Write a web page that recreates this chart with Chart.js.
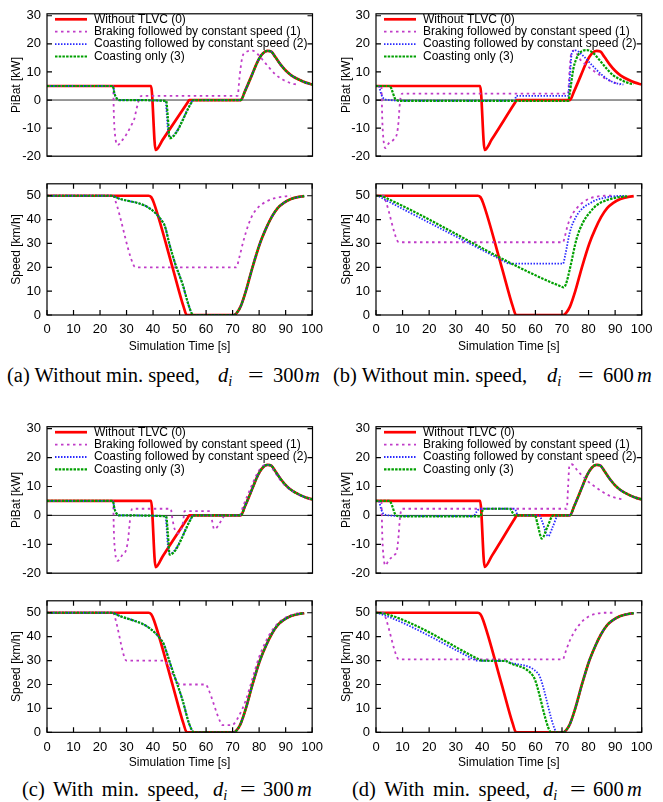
<!DOCTYPE html>
<html>
<head>
<meta charset="utf-8">
<script src="https://cdn.jsdelivr.net/npm/chart.js@4.4.0/dist/chart.umd.min.js"></script>
<style>
  body { margin: 0; background: #fff; width: 663px; height: 802px; position: relative; overflow: hidden; }
  canvas { position: absolute; }
  .cap { position: absolute; font-family: "Liberation Serif", "DejaVu Serif", serif; font-size: 20.5px; line-height: 23px; white-space: nowrap; color: #000; }
  .cap sub { font-size: 70%; line-height: 0; vertical-align: -0.25em; }
  .wide { word-spacing: 3.5px; }
  .eq { transform: scaleX(1.35); transform-origin: left center; }
</style>
</head>
<body>
<div class="cap" style="left:7px; top:364px">(a) Without min. speed,</div>
<div class="cap" style="left:218px; top:364px"><i>d<sub>i</sub></i></div>
<div class="cap eq" style="left:248px; top:364px">=</div>
<div class="cap" style="left:273px; top:364px">300</div>
<div class="cap" style="left:305px; top:364px"><i>m</i></div>

<div class="cap" style="left:333px; top:364px">(b) Without min. speed,</div>
<div class="cap" style="left:547px; top:364px"><i>d<sub>i</sub></i></div>
<div class="cap eq" style="left:578px; top:364px">=</div>
<div class="cap" style="left:603px; top:364px">600</div>
<div class="cap" style="left:637px; top:364px"><i>m</i></div>

<div class="cap wide" style="left:22px; top:778px">(c) With min. speed,</div>
<div class="cap" style="left:213px; top:778px"><i>d<sub>i</sub></i></div>
<div class="cap eq" style="left:240px; top:778px">=</div>
<div class="cap" style="left:263px; top:778px">300</div>
<div class="cap" style="left:297px; top:778px"><i>m</i></div>

<div class="cap wide" style="left:352px; top:778px">(d) With min. speed,</div>
<div class="cap" style="left:543px; top:778px"><i>d<sub>i</sub></i></div>
<div class="cap eq" style="left:570px; top:778px">=</div>
<div class="cap" style="left:593px; top:778px">600</div>
<div class="cap" style="left:627px; top:778px"><i>m</i></div>
<script>
// series names (legend)
const names = [
  "Without TLVC (0)",
  "Braking followed by constant speed (1)",
  "Coasting followed by constant speed (2)",
  "Coasting only (3)",
];

// common tail after the stop: acceleration back to 50 km/h
const accelPow = [[73, 0], [74.5, 3], [77, 8.5], [79.5, 14], [81.2, 16.5], [83, 17.5], [84.5, 17.2], [86, 15.3], [88, 12.6], [90, 10.4], [92, 8.8], [95, 7.2], [97.5, 6.2], [100, 5.5]];
const accelSpd = [[70.5, 0], [71.5, 0.8], [73, 3.5], [75, 10], [77.5, 20], [80.3, 30], [82.5, 36], [84.7, 41], [87, 44.8], [89.3, 47], [92, 48.6], [95, 49.5], [97, 49.8]];

// (a) without min. speed, d_i = 300 m  -- [time s, value]
const aPow0 = [[0, 5], [39.2, 5], [40.9, -17.8], [43.6, -14.1], [52.9, -1], [53.6, 0]].concat(accelPow);
const aPow1 = [[0, 5], [24.9, 5], [25.2, -6], [25.7, -13], [26.6, -16], [28.6, -14], [29.8, -12.4], [31.7, -9.1], [33, -6.4], [33.6, -3.6], [34.2, -1.4], [34.8, 0.8], [36, 1.5], [71.8, 1.5], [72.5, 8], [73.5, 15], [74.8, 17], [77.4, 17.6], [79.5, 16.2], [81.5, 14], [83.7, 11.5], [86.2, 9], [88.7, 7.3], [91.9, 6], [94.1, 5.5]];
const aPow2 = [[0, 5], [24.8, 5], [25.4, 2.4], [26.1, 0.8], [27.3, 0], [44.6, -0.3], [45.6, -11], [46.3, -13.2], [54.2, -1.1], [54.9, 0]].concat(accelPow);
const aPow3 = [[0, 5], [24.8, 5], [25.4, 2.4], [26.1, 0.8], [27.3, 0], [44.9, -0.3], [45.5, -6], [46.2, -13.6], [54.3, -1.1], [55, 0]].concat(accelPow);
const aSpd0 = [[0, 50], [38.3, 50], [39.3, 49.4], [40.3, 47], [47.2, 20.5], [51.5, 3.5], [52.7, 0]].concat(accelSpd);
const aSpd1 = [[0, 50], [24.9, 50], [25.6, 48.5], [32.6, 21], [33.6, 20], [71.4, 20], [72.5, 24], [74, 30.7], [76, 38], [77.7, 42.3], [80, 45.5], [82.8, 47.6], [86, 49], [89, 49.6], [92, 50]];
const aSpd2 = [[0, 50], [24.6, 50], [25.4, 49.6], [44, 38.4], [44.8, 36], [46.1, 30], [48.5, 21], [51.1, 13], [53.5, 3.8], [54.8, 0.3], [55.5, 0]].concat(accelSpd);
const aSpd3 = [[0, 50], [24.6, 50], [25.4, 49.6], [44, 38.4], [44.8, 36], [46.1, 30], [48.5, 21], [51.1, 13], [53.5, 3.8], [54.8, 0.3], [55.5, 0]].concat(accelSpd);

// (b) without min. speed, d_i = 600 m
const bPow0 = [[0, 5], [39.2, 5], [40.9, -17.8], [43.6, -14], [52.3, -1], [53, 0]].concat(accelPow);
const bPow1 = [[0, 5], [2, 5], [2.4, -8], [2.8, -14], [3.5, -17.1], [4.8, -15.4], [6.7, -14], [7.9, -11.9], [8.5, -7.5], [8.9, -2], [9.4, 1.5], [10, 2.3], [72.3, 2.3], [72.8, 10], [73.5, 16.8], [74.5, 17.6], [76.8, 14.5], [79.3, 12.3], [83.1, 9.6], [86.8, 7.4], [90.6, 5.9], [91.9, 5.5]];
const bPow2 = [[0, 5], [1, 5], [2, 2], [3, 0.4], [5, 0], [8, -0.2], [52.2, -0.2], [52.8, 1.5], [72.3, 1.5], [72.8, 6], [73.7, 16.7], [75, 17.7], [78.1, 15.6], [81.9, 11.8], [85.6, 8.5], [89.3, 6.3], [93.1, 5.5]];
const bPow3 = [[0, 5], [5.2, 5], [6, 3.5], [7.3, 0.3], [9, -0.3], [72.3, -0.3], [73, 3], [74.3, 11.2], [76.2, 16.2], [78, 17.6], [79.3, 17.8], [81.8, 16.7], [84.3, 14], [86.8, 11.2], [89.3, 8.8], [93.1, 6.8], [95.6, 5.9], [96.9, 5.7]];
const bSpd0 = [[0, 50], [38.3, 50], [39.3, 49.4], [40.3, 47], [47.2, 20.5], [51.5, 3.5], [52.7, 0]].concat(accelSpd);
const bSpd1 = [[0, 50], [2.8, 50], [3.6, 48], [8, 31.2], [8.8, 30.5], [70.4, 30.5], [71, 32.5], [72, 37], [73, 40.3], [75.5, 44.7], [78, 47.3], [80.5, 48.9], [83, 49.6], [86, 50], [90, 50]];
const bSpd2 = [[0, 50], [1, 49.8], [3, 48.6], [49.3, 21.9], [50, 21.5], [70.4, 21.5], [71.2, 25], [73, 34.9], [75.5, 41.6], [78, 45], [80.5, 46.8], [83, 48.3], [86.8, 49.3], [90, 49.8], [94, 50]];
const bSpd3 = [[0, 50], [2, 49.9], [3.5, 49.2], [70, 11.8], [70.6, 11.6], [71.5, 13], [73, 19.5], [75.5, 32], [78, 39], [80.5, 43], [83, 46], [86, 47.8], [89.3, 48.9], [92, 49.5], [95, 49.8]];

// (c) with min. speed, d_i = 300 m
const cPow0 = [[0, 5], [39.2, 5], [40.9, -17.9], [43.6, -14.1], [52.9, -1], [53.6, 0]].concat(accelPow);
const cPow1 = [[0, 5], [24.9, 5], [25.2, -6], [25.7, -13], [26.6, -15.7], [28.5, -13.5], [29.8, -11.9], [30.6, -8], [31.1, -3], [31.6, 1], [32.2, 2.3], [46.6, 2.3], [47.2, -1], [48, -4.5], [49.3, -6.2], [50.5, -5], [51.3, -2], [51.8, 1.5], [61.4, 1.5], [62, -1], [63, -4.8], [64.3, -3.8], [65.8, -1.5], [66.8, -0.2], [68, 0], [72.5, 0], [74, 3.5], [76.5, 9], [79, 14.2], [80.7, 16.6], [82.5, 17.5], [84, 17.2], [85.5, 15.4], [87.5, 12.7], [89.5, 10.5], [91.5, 8.9], [94.5, 7.3], [97, 6.3], [99.5, 5.6]];
const cPow2 = [[0, 5], [24.8, 5], [25.4, 2.4], [26.1, 0.8], [27.3, 0], [44.6, -0.3], [45.6, -11], [46.3, -13.2], [54.2, -1.1], [54.9, 0]].concat(accelPow);
const cPow3 = [[0, 5], [24.8, 5], [25.4, 2.4], [26.1, 0.8], [27.3, 0], [44.9, -0.3], [45.5, -6], [46.2, -13.6], [54.3, -1.1], [55, 0]].concat(accelPow);
const cSpd0 = [[0, 50], [38.3, 50], [39.3, 49.4], [40.3, 47], [47.2, 20.5], [51.5, 3.5], [52.7, 0]].concat(accelSpd);
const cSpd1 = [[0, 50], [24.8, 50], [25.5, 48.5], [29.3, 31], [30, 30], [44.3, 30], [45, 29], [49.2, 21], [50, 20], [59.9, 20], [60.7, 18.5], [65.5, 4], [66.2, 3], [69.9, 3], [70.6, 3.6], [72.7, 7.5], [75, 13.5], [77.5, 22.5], [80, 31.5], [82.5, 38], [85, 42.8], [87.5, 46], [90, 48], [93, 49.4], [96, 50]];
const cSpd2 = [[0, 50], [24.8, 50], [25.6, 49.6], [43.6, 37.8], [44.5, 35.5], [46.1, 30], [48.6, 21.8], [51.1, 13.5], [53.6, 3.6], [55, 0.3], [55.6, 0]].concat(accelSpd);
const cSpd3 = [[0, 50], [24.8, 50], [25.6, 49.6], [43.6, 37.8], [44.5, 35.5], [46.1, 30], [48.6, 21.8], [51.1, 13.5], [53.6, 3.6], [55, 0.3], [55.6, 0]].concat(accelSpd);

// (d) with min. speed, d_i = 600 m
const dPow0 = [[0, 5], [39.2, 5], [40.9, -17.8], [43.6, -14], [52.3, -1], [53, 0]].concat(accelPow);
const dPow1 = [[0, 5], [2, 5], [2.4, -8], [2.8, -14], [3.5, -17.3], [4.8, -15.5], [6.7, -13.8], [7.9, -12], [8.5, -7], [8.9, -2], [9.4, 1.5], [10, 2.3], [71.8, 2.3], [72.3, 10], [72.8, 17.3], [73.6, 17.7], [76, 15.3], [78.1, 13.3], [80.5, 11.2], [83.1, 9.5], [85.5, 8], [88.1, 6.7], [90.5, 6], [92.5, 5.6]];
const dPow2 = [[0, 5], [1, 5], [2, 2], [3, 0.4], [5, 0], [8, -0.2], [36.8, -0.2], [37.8, 1.2], [39, 2.3], [52.2, 2.3], [53.2, 0.3], [54, 0], [61.5, 0], [62.5, -2], [64.8, -7.2], [66.5, -4], [68.6, 0]].concat(accelPow);
const dPow3 = [[0, 5], [5.2, 5], [6, 3.5], [7.3, 0.3], [9, -0.3], [39.3, -0.3], [40, 1.5], [40.6, 2.3], [50.4, 2.3], [51.5, 0.8], [52.2, 0], [59.8, 0], [60.8, -3], [62.4, -8], [64.5, -4], [66.7, 0]].concat(accelPow);
const dSpd0 = [[0, 50], [38.3, 50], [39.3, 49.4], [40.3, 47], [47.2, 20.5], [51.5, 3.5], [52.7, 0]].concat(accelSpd);
const dSpd1 = [[0, 50], [2.8, 50], [3.6, 48], [8, 31.2], [8.8, 30.5], [70.4, 30.5], [71, 32.5], [73, 38.5], [75.5, 43.5], [78, 46.8], [80.5, 48.7], [83, 49.6], [86, 50], [90, 50]];
const dSpd2 = [[0, 50], [1, 49.8], [37, 30.4], [37.7, 30], [49, 29.8], [50, 29.3], [61, 24.6], [62, 22.3], [67.3, 1.2], [68.2, 0]].concat(accelSpd);
const dSpd3 = [[0, 50], [3, 49.7], [38.9, 30.4], [39.6, 30], [49, 29.8], [50, 29.2], [59.1, 23.6], [60, 21.5], [65, 1.5], [66, 0]].concat(accelSpd);

// axis settings
const powTicks = { min: -20, max: 30.7, step: 10, title: "PiBat [kW]" };
const spdTicks = { min: 0, max: 55, step: 10, title: "Speed [km/h]" };
const timeTicks = { min: 0, max: 100, step: 10, title: "Simulation Time [s]" };

const styles = [
  { color: "#ff0000", width: 2.7, dash: [] },
  { color: "#c03cc8", width: 1.8, dash: [2.5, 3.5] },
  { color: "#2a2aff", width: 1.8, dash: [1.5, 1.5] },
  { color: "#00a000", width: 2.2, dash: [2.5, 1.2] },
];

Chart.defaults.font.family = '"Liberation Sans", Arial, sans-serif';
Chart.defaults.color = "#000";

// frame, inward ticks, zero line and legend drawn gnuplot-style
const framePlugin = {
  id: "frame",
  beforeDatasetsDraw(chart, args, opts) {
    if (!opts.zero) return;
    const { ctx, chartArea: a, scales } = chart;
    const y0 = scales.y.getPixelForValue(0);
    ctx.save();
    ctx.strokeStyle = "#333";
    ctx.lineWidth = 1;
    ctx.beginPath();
    ctx.moveTo(a.left, y0);
    ctx.lineTo(a.right, y0);
    ctx.stroke();
    ctx.restore();
  },
  afterDraw(chart, args, opts) {
    const { ctx, chartArea: a, scales } = chart;
    ctx.save();
    ctx.strokeStyle = "#000";
    ctx.lineWidth = 1.2;
    ctx.strokeRect(a.left, a.top, a.right - a.left, a.bottom - a.top);
    ctx.beginPath();
    scales.y.ticks.forEach((t) => {
      const py = scales.y.getPixelForValue(t.value);
      ctx.moveTo(a.left, py); ctx.lineTo(a.left + 5, py);
      ctx.moveTo(a.right, py); ctx.lineTo(a.right - 5, py);
    });
    if (opts.xTicks) {
      scales.x.ticks.forEach((t) => {
        const px = scales.x.getPixelForValue(t.value);
        ctx.moveTo(px, a.bottom); ctx.lineTo(px, a.bottom - 5);
        ctx.moveTo(px, a.top); ctx.lineTo(px, a.top + 5);
      });
    }
    ctx.stroke();

    if (opts.legend) {
      ctx.font = '12px "Liberation Sans", Arial, sans-serif';
      ctx.textBaseline = "middle";
      ctx.fillStyle = "#000";
      chart.data.datasets.forEach((ds, i) => {
        const yy = a.top + 5.5 + i * 12.4;
        ctx.strokeStyle = ds.borderColor;
        ctx.lineWidth = ds.borderWidth;
        ctx.setLineDash(ds.borderDash);
        ctx.beginPath();
        ctx.moveTo(a.left + 8, yy);
        ctx.lineTo(a.left + 40, yy);
        ctx.stroke();
        ctx.setLineDash([]);
        ctx.fillText(ds.label, a.left + 47, yy);
      });
    }
    ctx.restore();
  },
};

// box: canvas [left, top, width, height]; area: plot frame [left, top, right, bottom]; titleY: x title centre
const panels = [
  { box: [0, 0, 330, 170], area: [47, 10.7, 312.5, 164.3], kind: "pow", series: [aPow0, aPow1, aPow2, aPow3] },
  { box: [0, 170, 330, 190], area: [47, 183.5, 312.5, 315], titleY: 346.7, kind: "spd", series: [aSpd0, aSpd1, aSpd2, aSpd3] },
  { box: [330, 0, 333, 170], area: [376, 10.7, 641.7, 164.3], kind: "pow", series: [bPow0, bPow1, bPow2, bPow3] },
  { box: [330, 170, 333, 190], area: [376, 183.5, 641.7, 315], titleY: 346.7, kind: "spd", series: [bSpd0, bSpd1, bSpd2, bSpd3] },
  { box: [0, 395, 330, 192], area: [47, 426.7, 312.5, 581], kind: "pow", series: [cPow0, cPow1, cPow2, cPow3] },
  { box: [0, 587, 330, 188], area: [47, 600, 312.5, 732.3], titleY: 762.3, kind: "spd", series: [cSpd0, cSpd1, cSpd2, cSpd3] },
  { box: [330, 395, 333, 192], area: [376, 426.7, 641.7, 581], kind: "pow", series: [dPow0, dPow1, dPow2, dPow3] },
  { box: [330, 587, 333, 188], area: [376, 600, 641.7, 732.3], titleY: 762.3, kind: "spd", series: [dSpd0, dSpd1, dSpd2, dSpd3] },
];

function makePanel(p) {
  const [bl, bt, bw, bh] = p.box;
  const [al, at, ar, ab] = p.area;
  const isPow = p.kind === "pow";
  const yAx = isPow ? powTicks : spdTicks;

  const canvas = document.createElement("canvas");
  canvas.width = bw;
  canvas.height = bh;
  canvas.style.left = bl + "px";
  canvas.style.top = bt + "px";
  document.body.appendChild(canvas);

  const datasets = p.series.map((s, i) => ({
    label: names[i],
    data: s.map(([x, y]) => ({ x, y })),
    borderColor: styles[i].color,
    borderWidth: styles[i].width,
    borderDash: styles[i].dash,
    pointRadius: 0,
    fill: false,
    cubicInterpolationMode: "monotone",
    order: 3 - i,
  }));

  new Chart(canvas, {
    type: "line",
    data: { datasets },
    plugins: [framePlugin],
    options: {
      responsive: false,
      animation: false,
      events: [],
      layout: {
        padding: { left: 0, top: at - bt, right: bl + bw - ar, bottom: isPow ? bt + bh - ab : 0 },
      },
      plugins: {
        legend: { display: false },
        tooltip: { enabled: false },
        frame: { zero: isPow, xTicks: !isPow, legend: isPow },
      },
      scales: {
        x: {
          type: "linear",
          display: !isPow,
          min: timeTicks.min,
          max: timeTicks.max,
          grid: { display: false, drawTicks: false },
          border: { display: false },
          ticks: { stepSize: timeTicks.step, padding: 7, font: { size: 13 }, maxRotation: 0 },
          title: {
            display: true,
            text: timeTicks.title,
            font: { size: 12 },
            padding: { top: 0, bottom: p.titleY ? bt + bh - p.titleY - 7.2 : 0 },
          },
          afterFit: (s) => { s.height = bt + bh - ab; },
        },
        y: {
          type: "linear",
          min: yAx.min,
          max: yAx.max,
          grid: { display: false, drawTicks: false },
          border: { display: false },
          ticks: { stepSize: yAx.step, includeBounds: false, padding: 6, font: { size: 13 } },
          title: { display: true, text: yAx.title, font: { size: 12 }, padding: { top: 9, bottom: 0 } },
          afterFit: (s) => { s.width = al - bl; },
        },
      },
    },
  });
}

panels.forEach(makePanel);
</script>
</body>
</html>
